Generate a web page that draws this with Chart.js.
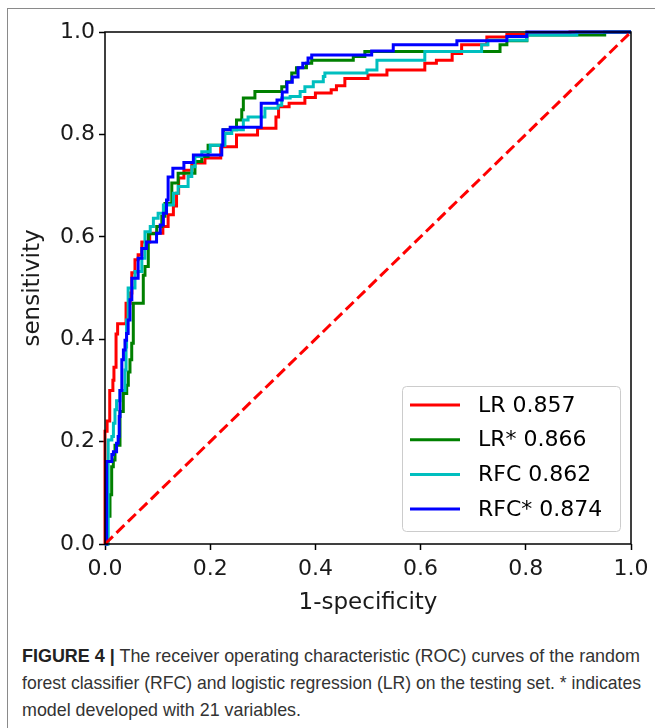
<!DOCTYPE html>
<html>
<head>
<meta charset="utf-8">
<script src="https://cdn.jsdelivr.net/npm/chart.js@4.4.0/dist/chart.umd.min.js"></script>
<style>
  html, body { margin: 0; padding: 0; background: #fff; }
  #page { position: relative; width: 655px; height: 728px; overflow: hidden; }
  #frame { position: absolute; left: 7px; top: 8px; width: 700px; height: 760px;
           border-left: 1.5px solid #8a8a8a; border-top: 1.5px solid #8a8a8a; }
  #chartBox { position: absolute; left: 0; top: 0; width: 655px; height: 625px; }
  #caption { position: absolute; left: 22px; top: 642px; white-space: nowrap;
             font-family: 'Liberation Sans', Arial, sans-serif;
             font-size: 19px; line-height: 27px; color: #333; }
  #caption .ln { display: block; transform-origin: 0 50%; width: max-content; }
  #caption b { color: #222; }
</style>
</head>
<body>
<div id="page">
  <div id="frame"></div>
  <div id="chartBox"><canvas id="roc"></canvas></div>
  <div id="caption">
    <span class="ln" data-w="618"><b>FIGURE 4 |</b> The receiver operating characteristic (ROC) curves of the random</span>
    <span class="ln" data-w="619">forest classifier (RFC) and logistic regression (LR) on the testing set. * indicates</span>
    <span class="ln" data-w="279">model developed with 21 variables.</span>
  </div>
</div>
<script>
// series names as shown in legend
const seriesNames = ['LR 0.857', 'LR* 0.866', 'RFC 0.862', 'RFC* 0.874'];
const tickValues = [0, 0.2, 0.4, 0.6, 0.8, 1.0];

// LR (red)
const lrX = [0, 0, 0.004, 0.009, 0.015, 0.017, 0.021, 0.024, 0.04, 0.048, 0.051, 0.057, 0.063, 0.07, 0.085, 0.11, 0.12, 0.13, 0.136, 0.14, 0.15, 0.165, 0.19, 0.22, 0.25, 0.29, 0.325, 0.33, 0.35, 0.38, 0.40, 0.43, 0.44, 0.456, 0.50, 0.536, 0.608, 0.63, 0.66, 0.678, 0.726, 0.764, 0.884, 1];
const lrY = [0, 0.22, 0.24, 0.30, 0.32, 0.345, 0.41, 0.43, 0.47, 0.49, 0.53, 0.555, 0.565, 0.59, 0.607, 0.62, 0.643, 0.66, 0.685, 0.715, 0.73, 0.744, 0.754, 0.776, 0.799, 0.812, 0.834, 0.854, 0.861, 0.872, 0.881, 0.887, 0.895, 0.909, 0.916, 0.926, 0.939, 0.945, 0.958, 0.975, 0.99, 0.995, 1.0, 1.0];

// LR* (green)
const lrStarX = [0, 0.005, 0.0095, 0.0127, 0.0158, 0.019, 0.0285, 0.0348, 0.0413, 0.0443, 0.0475, 0.0508, 0.0538, 0.0728, 0.076, 0.0823, 0.0983, 0.108, 0.114, 0.127, 0.139, 0.171, 0.184, 0.196, 0.225, 0.25, 0.26, 0.263, 0.285, 0.336, 0.345, 0.355, 0.364, 0.383, 0.393, 0.472, 0.494, 0.751, 0.764, 0.802, 0.95, 1];
const lrStarY = [0, 0.054, 0.096, 0.151, 0.164, 0.193, 0.259, 0.294, 0.31, 0.336, 0.36, 0.392, 0.47, 0.525, 0.542, 0.606, 0.62, 0.64, 0.665, 0.705, 0.724, 0.747, 0.757, 0.779, 0.809, 0.828, 0.848, 0.871, 0.884, 0.893, 0.903, 0.92, 0.93, 0.939, 0.945, 0.952, 0.962, 0.975, 0.983, 0.994, 1.0, 1.0];

// RFC (cyan)
const rfcX = [0, 0.006, 0.006, 0.013, 0.016, 0.019, 0.022, 0.0285, 0.038, 0.04, 0.041, 0.044, 0.057, 0.07, 0.076, 0.086, 0.092, 0.101, 0.111, 0.13, 0.139, 0.158, 0.165, 0.171, 0.184, 0.20, 0.228, 0.241, 0.263, 0.272, 0.304, 0.329, 0.336, 0.352, 0.371, 0.38, 0.396, 0.415, 0.418, 0.498, 0.517, 0.608, 0.716, 0.728, 0.802, 0.897, 1];
const rfcY = [0, 0.164, 0.203, 0.21, 0.236, 0.262, 0.28, 0.30, 0.34, 0.385, 0.4375, 0.5, 0.532, 0.558, 0.61, 0.62, 0.636, 0.646, 0.662, 0.685, 0.698, 0.718, 0.737, 0.757, 0.766, 0.779, 0.802, 0.809, 0.828, 0.834, 0.851, 0.857, 0.871, 0.874, 0.884, 0.893, 0.903, 0.913, 0.92, 0.926, 0.945, 0.962, 0.975, 0.984, 0.994, 1.0, 1.0];

// RFC* (blue)
const rfcStarX = [0, 0.003, 0.013, 0.016, 0.022, 0.025, 0.027, 0.0285, 0.032, 0.035, 0.038, 0.041, 0.044, 0.0475, 0.051, 0.063, 0.07, 0.079, 0.098, 0.105, 0.111, 0.117, 0.12, 0.129, 0.15, 0.168, 0.222, 0.224, 0.238, 0.297, 0.327, 0.337, 0.346, 0.356, 0.367, 0.376, 0.386, 0.393, 0.507, 0.548, 0.669, 0.764, 0.802, 1];
const rfcStarY = [0, 0.161, 0.175, 0.18, 0.197, 0.21, 0.249, 0.3, 0.36, 0.379, 0.398, 0.411, 0.4375, 0.477, 0.519, 0.558, 0.577, 0.59, 0.607, 0.623, 0.646, 0.672, 0.717, 0.734, 0.745, 0.76, 0.779, 0.809, 0.814, 0.861, 0.867, 0.883, 0.902, 0.912, 0.93, 0.939, 0.949, 0.955, 0.963, 0.975, 0.983, 0.991, 1.0, 1.0];

// chance line
const chanceX = [0, 1];
const chanceY = [0, 1];

const pts = (xs, ys) => xs.map((x, i) => ({ x, y: ys[i] }));

function curve(name, xs, ys, color, order) {
  return {
    label: name,
    data: pts(xs, ys),
    borderColor: color,
    borderWidth: 3,
    pointRadius: 0,
    stepped: 'before',
    fill: false,
    clip: 4,
    order,
    inLegend: true
  };
}

// box round the axes + legend in the lower right
const frameAndLegend = {
  id: 'frameAndLegend',
  afterDatasetsDraw(chart) {
    const { ctx, chartArea: a } = chart;
    ctx.save();
    ctx.strokeStyle = '#000';
    ctx.lineWidth = 1.5;
    ctx.strokeRect(a.left, a.top, a.right - a.left, a.bottom - a.top);

    const w = 218, h = 145;
    const x = a.right - 11 - w, y = a.bottom - 13 - h;
    ctx.beginPath();
    ctx.roundRect(x + 0.5, y + 0.5, w, h, 4);
    ctx.fillStyle = 'rgba(255,255,255,0.85)';
    ctx.fill();
    ctx.strokeStyle = '#cccccc';
    ctx.lineWidth = 1;
    ctx.stroke();

    ctx.font = '22px "DejaVu Sans"';
    ctx.textBaseline = 'middle';
    const items = chart.data.datasets.filter(d => d.inLegend);
    items.forEach((d, i) => {
      const ry = y + 19 + i * 34.7;
      ctx.strokeStyle = d.borderColor;
      ctx.lineWidth = 3;
      ctx.beginPath();
      ctx.moveTo(x + 8, ry);
      ctx.lineTo(x + 58, ry);
      ctx.stroke();
      ctx.fillStyle = '#000';
      ctx.fillText(d.label, x + 76, ry + 1);
    });
    ctx.restore();
  }
};

const tickFont = { family: 'DejaVu Sans', size: 22 };
const titleFont = { family: 'DejaVu Sans', size: 23 };

new Chart(document.getElementById('roc'), {
  type: 'line',
  data: {
    datasets: [
      curve(seriesNames[0], lrX, lrY, '#ff0000', 3),
      curve(seriesNames[1], lrStarX, lrStarY, '#008000', 2),
      curve(seriesNames[2], rfcX, rfcY, '#00bfbf', 1),
      curve(seriesNames[3], rfcStarX, rfcStarY, '#0000ff', 0),
      {
        label: 'chance',
        data: pts(chanceX, chanceY),
        borderColor: '#ff0000',
        borderWidth: 3,
        borderDash: [11, 5],
        pointRadius: 0,
        fill: false,
        order: -1
      }
    ]
  },
  options: {
    responsive: true,
    maintainAspectRatio: false,
    animation: false,
    layout: { padding: { left: 0, right: 24, top: 32, bottom: 0 } },
    plugins: { legend: { display: false }, tooltip: { enabled: false } },
    scales: {
      x: {
        type: 'linear', min: 0, max: 1,
        afterBuildTicks: s => { s.ticks = tickValues.map(v => ({ value: v })); },
        afterFit: s => { s.height = 81; },
        ticks: { callback: v => v.toFixed(1), font: tickFont, color: '#1a1a1a', padding: 6, maxRotation: 0 },
        grid: { display: true, drawOnChartArea: false, drawTicks: true, tickLength: 6, tickColor: '#000', tickWidth: 1.5 },
        border: { display: false },
        title: { display: true, text: '1-specificity', font: titleFont, color: '#1a1a1a', padding: { top: 0, bottom: 8 } }
      },
      y: {
        type: 'linear', min: 0, max: 1,
        afterBuildTicks: s => { s.ticks = tickValues.map(v => ({ value: v })); },
        afterFit: s => { s.width = 105; },
        ticks: { callback: v => v.toFixed(1), font: tickFont, color: '#1a1a1a', padding: 4 },
        grid: { display: true, drawOnChartArea: false, drawTicks: true, tickLength: 6, tickColor: '#000', tickWidth: 1.5 },
        border: { display: false },
        title: { display: true, text: 'sensitivity', font: titleFont, color: '#1a1a1a', padding: { top: 19, bottom: 0 } }
      }
    }
  },
  plugins: [frameAndLegend]
});

// squeeze each caption line to the width it has in the figure
document.querySelectorAll('#caption .ln').forEach(el => {
  const target = +el.dataset.w;
  const w = el.getBoundingClientRect().width;
  if (w > 0) el.style.transform = `scaleX(${target / w})`;
});
</script>
</body>
</html>
